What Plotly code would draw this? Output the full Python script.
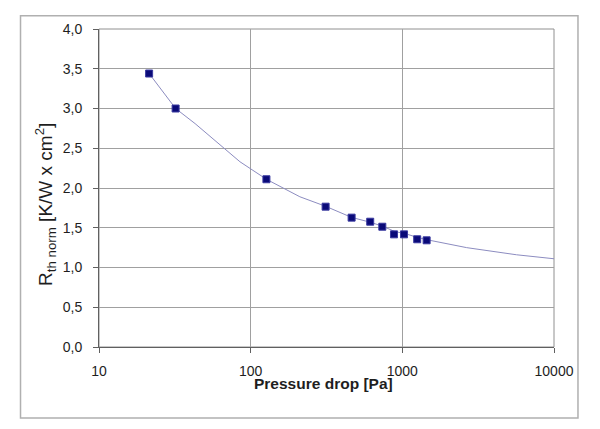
import plotly.graph_objects as go

# measured points
pressure_pa = [21.4, 32.0, 127, 312, 463, 614, 738, 881, 1026, 1253, 1446]
rth_norm = [3.44, 3.00, 2.11, 1.765, 1.627, 1.576, 1.513, 1.417, 1.417, 1.355, 1.342]

# trend curve
curve_x = [21.4, 32, 43, 66, 85, 127, 211, 312, 463, 614, 738, 900, 1026, 1253, 1446, 2655, 5662, 10000]
curve_y = [3.44, 3.00, 2.81, 2.51, 2.33, 2.11, 1.89, 1.77, 1.63, 1.57, 1.52, 1.45, 1.43, 1.38, 1.35, 1.25, 1.16, 1.11]

x_ticks = [10, 100, 1000, 10000]
x_ticktext = ["10", "100", "1000", "10000"]
y_ticks = [0, 0.5, 1.0, 1.5, 2.0, 2.5, 3.0, 3.5, 4.0]
y_ticktext = ["0,0", "0,5", "1,0", "1,5", "2,0", "2,5", "3,0", "3,5", "4,0"]

FONT = "Liberation Sans, Arial, sans-serif"
TXT = "#1e1e1e"

fig = go.Figure()
fig.add_trace(go.Scatter(x=curve_x, y=curve_y, mode="lines",
                         line=dict(color="#8c8cc0", width=1), hoverinfo="skip",
                         showlegend=False))
fig.add_trace(go.Scatter(x=pressure_pa, y=rth_norm, mode="markers",
                         marker=dict(symbol="square", size=7, color="#0a0a78",
                                     line=dict(color="#3a3aa0", width=1)),
                         showlegend=False))

fig.update_layout(
    width=600, height=429,
    margin=dict(l=99, r=46, t=29, b=82),
    paper_bgcolor="white", plot_bgcolor="white",
    font=dict(family=FONT, size=14, color=TXT),
    xaxis=dict(type="log", range=[1, 4], tickvals=x_ticks, ticktext=x_ticktext,
               showgrid=True, gridcolor="#a0a0a0", gridwidth=1,
               showline=True, linecolor="#606060", linewidth=1,
               ticks="outside", ticklen=5, tickcolor="#606060",
               ticklabelstandoff=6,
               tickfont=dict(family=FONT, size=14, color=TXT),
               zeroline=False),
    yaxis=dict(range=[0, 4], tickvals=y_ticks, ticktext=y_ticktext,
               showgrid=True, gridcolor="#a0a0a0", gridwidth=1,
               showline=True, linecolor="#606060", linewidth=1,
               ticks="outside", ticklen=5, tickcolor="#606060",
               ticklabelstandoff=8,
               tickfont=dict(family=FONT, size=14, color=TXT),
               zeroline=False),
    shapes=[
        dict(type="rect", xref="paper", yref="paper", x0=0, x1=1, y0=0, y1=1,
             line=dict(color="#909090", width=1), layer="below"),
        dict(type="rect", xref="paper", yref="paper", x0=-0.1725, x1=1.0527,
             y0=-0.2233, y1=1.0418, line=dict(color="#b0b0b0", width=1.5)),
    ],
    annotations=[
        dict(text="<b>Pressure drop [Pa]</b>", xref="paper", yref="paper",
             x=(323 - 99) / 455, y=(347 - 383) / 318, showarrow=False,
             xanchor="center", yanchor="middle",
             font=dict(family=FONT, size=15.5, color=TXT)),
        dict(text="R<sub>th norm</sub> [K/W x cm<sup>2</sup>]", xref="paper", yref="paper",
             x=(45 - 99) / 455, y=(347 - 205) / 318, showarrow=False,
             textangle=-90, xanchor="center", yanchor="middle",
             font=dict(family=FONT, size=19, color=TXT)),
    ],
)

fig.write_html("out.html")
